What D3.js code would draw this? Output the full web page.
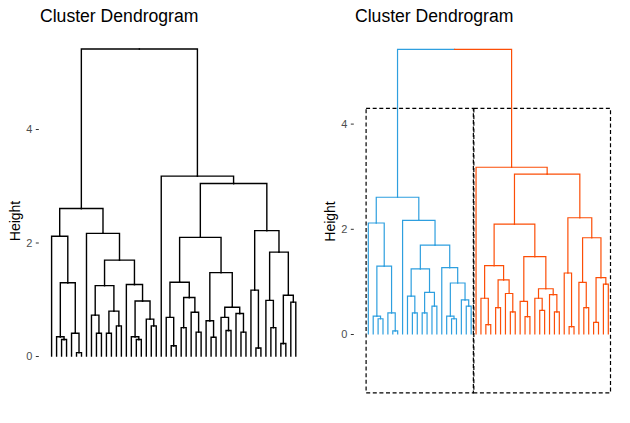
<!DOCTYPE html>
<html>
<head>
<meta charset="utf-8">
<script src="https://cdn.jsdelivr.net/npm/d3@7"></script>
<style>
  html, body { margin: 0; padding: 0; background: #fff; }
  svg { display: block; font-family: "Liberation Sans", Arial, sans-serif; }
</style>
</head>
<body>
<svg id="chart" width="630" height="423"></svg>
<script>
// ---- Data (hclust-style: negative = leaf in display order, positive = earlier merge step) ----
const mergeA = [-6,-42,-25,-47,-3,-18,-33,-2,-17,-5,-10,-12,-30,-39,-36,-27,-45,-14,-21,-32,
                -20,-24,-35,-9,-38,-29,12,23,-49,9,-44,16,4,-41,24,-16,8,22,20,35,
                31,38,-1,-8,34,43,42,-23,46];
const mergeB = [-7,-43,-26,-48,-4,-19,-34,5,6,1,-11,-13,-31,-40,-37,-28,-46,-15,-22,7,
                19,3,15,11,14,13,18,25,-50,21,17,26,29,2,27,30,10,32,28,36,
                33,39,37,40,41,44,45,47,48];
const mergeHeight = [0.06,0.14,0.18,0.22,0.29,0.29,0.33,0.34,0.34,0.40,0.40,0.40,0.42,0.42,0.45,0.50,0.50,0.53,0.53,0.62,
                     0.65,0.68,0.68,0.72,0.75,0.77,0.79,0.86,0.95,0.97,0.98,1.03,1.07,1.16,1.24,1.26,1.29,1.30,1.47,1.69,
                     1.83,2.09,2.11,2.16,2.21,2.60,3.04,3.17,5.41];
const leafCount = 50;
const yTicks = [0, 2, 4];
const titleText = "Cluster Dendrogram";
const yLabel = "Height";
const clusterColors = ["#2E9FDF", "#FC4E07"];
const rectTop = 4.29;      // cut level (mid of last two merges)
const rectBottom = -1.12;

// ---- Build tree ----
function buildNode(ref) {
  if (ref < 0) return { leaf: true, index: -ref - 1, x: -ref - 1, h: 0 };
  const i = ref - 1;
  const a = buildNode(mergeA[i]), b = buildNode(mergeB[i]);
  return { leaf: false, children: [a, b], x: (a.x + b.x) / 2, h: mergeHeight[i] };
}
const root = buildNode(mergeHeight.length);

function leaves(n) { return n.leaf ? [n.index] : n.children.flatMap(leaves); }

const svg = d3.select("#chart");

function drawPanel(cfg) {
  const g = svg.append("g");
  const x = d3.scaleLinear().domain([0, leafCount - 1]).range([cfg.x0, cfg.x1]);
  const y = d3.scaleLinear().domain([0, 4]).range([cfg.y0, cfg.y4]);

  // edges: each child hangs from its parent's midpoint, coloured by its cluster
  const segs = [];
  function walk(n, color) {
    if (n.leaf) return;
    n.children.forEach((c, ci) => {
      const col = cfg.colored ? (n === root ? clusterColors[ci] : color) : "#000";
      segs.push({ p: n, c: c, color: col });
      walk(c, col);
    });
  }
  walk(root, null);

  g.append("g").selectAll("path").data(segs).join("path")
    .attr("d", s => `M${x(s.p.x)},${y(s.p.h)}H${x(s.c.x)}V${y(s.c.h)}`)
    .attr("fill", "none")
    .attr("stroke", s => s.color)
    .attr("stroke-width", cfg.lw)
    .attr("stroke-linecap", "square");

  // rectangles around the k = 2 clusters
  if (cfg.rects) {
    root.children.forEach(c => {
      const lv = leaves(c);
      const lo = d3.min(lv) - 0.45, hi = d3.max(lv) + 0.45;
      g.append("rect")
        .attr("x", x(lo)).attr("y", y(rectTop))
        .attr("width", x(hi) - x(lo)).attr("height", y(rectBottom) - y(rectTop))
        .attr("fill", "none").attr("stroke", "#000")
        .attr("stroke-width", 1.2).attr("stroke-dasharray", "4,2.6");
    });
  }

  // y axis
  const ax = g.append("g").attr("transform", `translate(${cfg.axisX},0)`)
    .call(d3.axisLeft(y).tickValues(yTicks).tickSize(3).tickPadding(3.5).tickFormat(d3.format("d")));
  ax.select(".domain").remove();
  ax.selectAll(".tick line").attr("stroke", "#333").attr("stroke-width", 1);
  ax.selectAll(".tick text").attr("fill", "#4D4D4D").attr("font-size", 11)
    .attr("font-family", "Liberation Sans, Arial, sans-serif");

  // y label
  g.append("text")
    .attr("transform", `translate(${cfg.labelX},${cfg.labelY}) rotate(-90)`)
    .attr("text-anchor", "middle").attr("font-size", 14).attr("fill", "#000")
    .text(yLabel);

  // title
  g.append("text").attr("x", cfg.titleX).attr("y", 22)
    .attr("font-size", 17.6).attr("fill", "#000").text(titleText);
}

drawPanel({ x0: 51.6, x1: 295.8, y0: 356, y4: 129, axisX: 38.8, colored: false, rects: false,
            lw: 1.4, labelX: 20, labelY: 221, titleX: 40 });
drawPanel({ x0: 368.3, x1: 608.3, y0: 334, y4: 123.6, axisX: 353.8, colored: true, rects: true,
            lw: 1.2, labelX: 335, labelY: 221.5, titleX: 355 });
</script>
</body>
</html>
